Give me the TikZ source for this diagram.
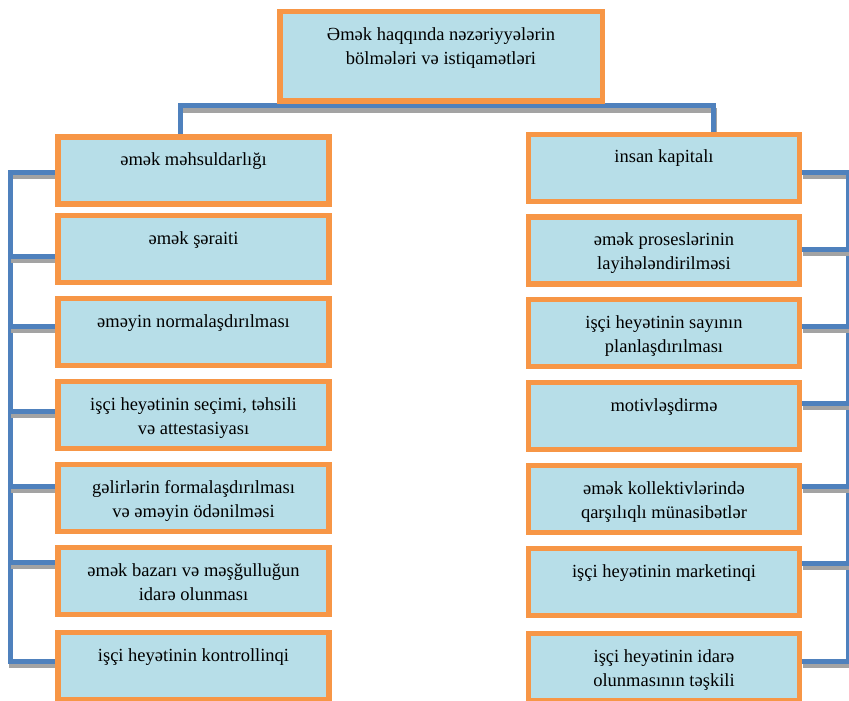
\documentclass[tikz,border=0pt]{standalone}
\usepackage{fontspec}
\setmainfont{Liberation Serif}
\usepackage{xcolor}
\usepackage{tikz}
\usetikzlibrary{positioning,calc,backgrounds}
\definecolor{boxfill}{HTML}{B7DEE8}
\definecolor{boxorange}{HTML}{F79646}
\definecolor{linkblue}{HTML}{4F81BD}
\definecolor{linkgray}{HTML}{A3A3A3}
\newcommand{\celltext}[2][67bp]{\parbox[c][#1][t]{262bp}{\centering\rule{0pt}{28.5bp}#2}}

\begin{document}
\begin{tikzpicture}[x=1bp,y=-1bp,line join=miter]
            \tikzset{
                section/.style={
                    draw=boxorange,
                    fill=boxfill,
                    line width=5.5bp,
                    inner sep=0pt,
                    minimum width=271bp,
                    minimum height=67bp,
                    font=\fontsize{18.5bp}{24bp}\selectfont
                },
                link/.style={
                    draw=linkblue,
                    line width=5bp,
                    preaction={draw=linkgray, line width=4.5bp,
                        transform canvas={xshift=1bp, yshift=-4.5bp}}
                }
            }
            \useasboundingbox (0,0) rectangle (849,701);

            % Main box
            \node[section,minimum width=322.5bp,minimum height=89.5bp] (T_Main) at (441,56.5)
                {\celltext[89.5bp]{Əmək haqqında nəzəriyyələrin\\bölmələri və istiqamətləri}};

            % Left column
            \node[section] (L_1) at (193.5,170.5) {\celltext{əmək məhsuldarlığı}};
            \node[section] (L_2) at (193.5,249) {\celltext{əmək şəraiti}};
            \node[section] (L_3) at (193.5,332) {\celltext{əməyin normalaşdırılması}};
            \node[section] (L_4) at (193.5,415) {\celltext{işçi heyətinin seçimi, təhsili\\və attestasiyası}};
            \node[section] (L_5) at (193.5,498) {\celltext{gəlirlərin formalaşdırılması\\və əməyin ödənilməsi}};
            \node[section] (L_6) at (193.5,581) {\celltext{əmək bazarı və məşğulluğun\\idarə olunması}};
            \node[section] (L_7) at (193.5,666) {\celltext{işçi heyətinin kontrollinqi}};

            % Right column
            \node[section] (R_1) at (664,168) {\celltext{insan kapitalı}};
            \node[section] (R_2) at (664,250.5) {\celltext{əmək proseslərinin\\layihələndirilməsi}};
            \node[section] (R_3) at (664,333) {\celltext{işçi heyətinin sayının\\planlaşdırılması}};
            \node[section] (R_4) at (664,416) {\celltext{motivləşdirmə}};
            \node[section] (R_5) at (664,499) {\celltext{əmək kollektivlərində\\qarşılıqlı münasibətlər}};
            \node[section] (R_6) at (664,582) {\celltext{işçi heyətinin marketinqi}};
            \node[section] (R_7) at (664,667) {\celltext{işçi heyətinin idarə\\olunmasının təşkili}};

            % Spines
            \coordinate (T_L) at (180,106);
            \coordinate (T_R) at (713.5,106);
            \coordinate (SL_1) at (10,172);
            \coordinate (SL_2) at (10,256);
            \coordinate (SL_3) at (10,326);
            \coordinate (SL_4) at (10,411);
            \coordinate (SL_5) at (10,486);
            \coordinate (SL_6) at (10,562);
            \coordinate (SL_7) at (10,661);
            \coordinate (SR_1) at (848.5,172);
            \coordinate (SR_2) at (848.5,249);
            \coordinate (SR_3) at (848.5,326);
            \coordinate (SR_4) at (848.5,403);
            \coordinate (SR_5) at (848.5,486);
            \coordinate (SR_6) at (848.5,563);
            \coordinate (SR_7) at (848.5,661);

            \begin{scope}[on background layer]
                \draw[link] (T_L |- L_1.north) -- (T_L) -- (T_R) -- (T_R |- R_1.north);

                \draw[link] (SL_1 -| L_1.west) -- (SL_1) -- (SL_7) -- (SL_7 -| L_7.west);
                \draw[link] (SL_2) -- (SL_2 -| L_2.west);
                \draw[link] (SL_3) -- (SL_3 -| L_3.west);
                \draw[link] (SL_4) -- (SL_4 -| L_4.west);
                \draw[link] (SL_5) -- (SL_5 -| L_5.west);
                \draw[link] (SL_6) -- (SL_6 -| L_6.west);

                \draw[link] (SR_1 -| R_1.east) -- (SR_1) -- (SR_7) -- (SR_7 -| R_7.east);
                \draw[link] (SR_2) -- (SR_2 -| R_2.east);
                \draw[link] (SR_3) -- (SR_3 -| R_3.east);
                \draw[link] (SR_4) -- (SR_4 -| R_4.east);
                \draw[link] (SR_5) -- (SR_5 -| R_5.east);
                \draw[link] (SR_6) -- (SR_6 -| R_6.east);
            \end{scope}
\end{tikzpicture}
\end{document}
